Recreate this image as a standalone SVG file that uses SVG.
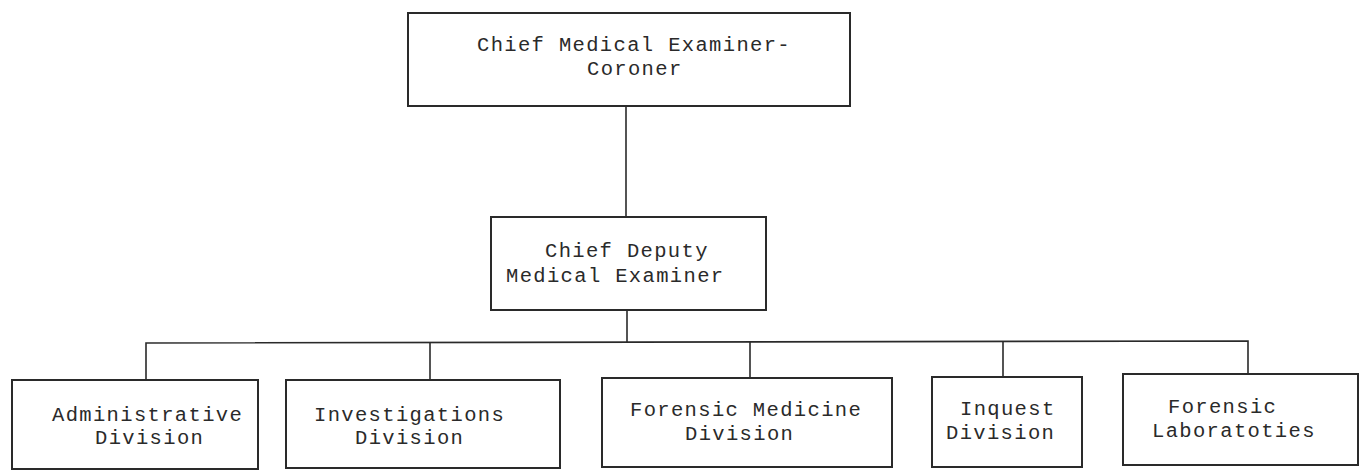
<svg xmlns="http://www.w3.org/2000/svg" width="1361" height="472" viewBox="0 0 1361 472">
<style>
.box{fill:#fff;stroke:#2a2a2a;stroke-width:2}
.lbl{font-family:"Liberation Mono","DejaVu Sans Mono",monospace;font-size:20.5px;letter-spacing:1.35px;fill:#2a2a2a}
.conn{stroke:#2a2a2a;stroke-width:1.6;fill:none}
</style>
<rect width="1361" height="472" fill="#fff"/>
<g id="connectors">
<line class="conn" x1="626" y1="106" x2="626" y2="217"/>
<line class="conn" x1="627" y1="310" x2="627" y2="343"/>
<polyline class="conn" points="146,380 146,343 1248,341 1248,374"/>
<line class="conn" x1="430" y1="343" x2="430" y2="380"/>
<line class="conn" x1="750" y1="342" x2="750" y2="378"/>
<line class="conn" x1="1003" y1="341" x2="1003" y2="377"/>
</g>
<g id="chief">
<rect class="box" x="408" y="13" width="442" height="93"/>
<text class="lbl" x="477" y="51">Chief Medical Examiner-</text>
<text class="lbl" x="587" y="75">Coroner</text>
</g>
<g id="deputy">
<rect class="box" x="491" y="217" width="275" height="93"/>
<text class="lbl" x="545" y="257">Chief Deputy</text>
<text class="lbl" x="506" y="282">Medical Examiner</text>
</g>
<g id="admin">
<rect class="box" x="12" y="380" width="246" height="89"/>
<text class="lbl" x="52" y="421">Administrative</text>
<text class="lbl" x="95" y="444">Division</text>
</g>
<g id="investigations">
<rect class="box" x="286" y="380" width="274" height="88"/>
<text class="lbl" x="314" y="421">Investigations</text>
<text class="lbl" x="355" y="444">Division</text>
</g>
<g id="forensic-medicine">
<rect class="box" x="602" y="378" width="290" height="89"/>
<text class="lbl" x="630" y="416">Forensic Medicine</text>
<text class="lbl" x="685" y="440">Division</text>
</g>
<g id="inquest">
<rect class="box" x="932" y="377" width="150" height="90"/>
<text class="lbl" x="960" y="415">Inquest</text>
<text class="lbl" x="946" y="439">Division</text>
</g>
<g id="forensic-labs">
<rect class="box" x="1123" y="374" width="235" height="91"/>
<text class="lbl" x="1168" y="413">Forensic</text>
<text class="lbl" x="1152" y="437">Laboratoties</text>
</g>
</svg>
